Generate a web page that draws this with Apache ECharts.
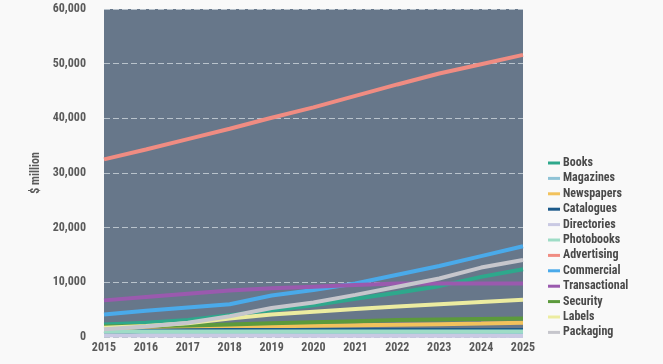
<!DOCTYPE html>
<html><head><meta charset="utf-8">
<script src="https://cdn.jsdelivr.net/npm/echarts@6/dist/echarts.min.js"></script>
<style>html,body{margin:0;padding:0;background:#f9f9f9;}#c{width:663px;height:364px;}</style>
</head><body><div id="c"></div>
<script>
const years = ['2015','2016','2017','2018','2019','2020','2021','2022','2023','2024','2025'];
const seriesNames = ['Books','Magazines','Newspapers','Catalogues','Directories','Photobooks','Advertising','Commercial','Transactional','Security','Labels','Packaging'];
const colors = ['#2ea88c','#8fc3d6','#f2c25c','#1c5a8a','#c9c9e3','#9edcc6','#f08c82','#4aaaea','#9a5aae','#5c9a3c','#ececa0','#c6c6cc'];
const books = [2300, 2600, 3100, 4000, 4900, 5800, 7000, 8100, 9300, 11000, 12400];
const magazines = [700, 700, 690, 680, 680, 670, 670, 660, 660, 650, 650];
const newspapers = [1500, 1600, 1750, 1850, 1950, 2050, 2150, 2250, 2350, 2450, 2600];
const catalogues = [600, 1150, 1250, 1300, 1300, 1300, 1300, 1300, 1300, 1300, 1300];
const directories = [300, 290, 280, 270, 260, 250, 240, 230, 220, 210, 200];
const photobooks = [1000, 1000, 1000, 1000, 1000, 1000, 1000, 1000, 1000, 1000, 1000];
const advertising = [32500, 34300, 36200, 38100, 40100, 42000, 44100, 46200, 48200, 49900, 51600];
const commercial = [4100, 4800, 5400, 6000, 7600, 8600, 9800, 11400, 13000, 14800, 16600];
const transactional = [6700, 7300, 7900, 8500, 8900, 9200, 9500, 9800, 9800, 9800, 9800];
const security = [1900, 2000, 2100, 2300, 2500, 2700, 2900, 3100, 3200, 3300, 3400];
const labels = [1700, 2000, 2500, 3400, 4100, 4600, 5100, 5600, 6000, 6400, 6800];
const packaging = [1400, 1900, 2600, 3800, 5300, 6300, 7700, 9200, 10700, 12700, 14100];
const yTicks = [0, 10000, 20000, 30000, 40000, 50000, 60000];
const allData = [books, magazines, newspapers, catalogues, directories, photobooks, advertising, commercial, transactional, security, labels, packaging];
const font = "'Liberation Sans Narrow','Roboto Condensed','Liberation Sans',sans-serif";
const chart = echarts.init(document.getElementById('c'));
chart.setOption({
  animation: false,
  backgroundColor: '#f9f9f9',
  color: colors,
  grid: {left: 104, right: 140, top: 9, bottom: 27, show: true, backgroundColor: '#67778a', borderWidth: 0},
  legend: {
    orient: 'vertical', left: 543, top: 151,
    data: seriesNames, icon: 'rect', itemWidth: 12, itemHeight: 3, itemGap: 1.4,
    textStyle: {fontFamily: font, fontSize: 12, fontWeight: 'bold', color: '#4a4a4a', lineHeight: 14, padding: [0,0,0,-2]}
  },
  xAxis: {
    type: 'category', data: years, boundaryGap: false,
    axisLine: {show: false}, axisTick: {show: false},
    axisLabel: {fontFamily: font, fontSize: 12, fontWeight: 'bold', color: '#5a5a5a', margin: 5}
  },
  yAxis: {
    type: 'value', min: yTicks[0], max: yTicks[yTicks.length-1], interval: 10000,
    name: '$ million', nameLocation: 'middle', nameGap: 60, nameRotate: 90,
    nameTextStyle: {fontFamily: font, fontSize: 12, fontWeight: 'bold', color: '#5a5a5a'},
    axisLine: {show: false}, axisTick: {show: false},
    axisLabel: {fontFamily: font, fontSize: 12, fontWeight: 'bold', color: '#5a5a5a', margin: 18,
      formatter: v => v.toLocaleString('en-US')},
    splitLine: {show: true, lineStyle: {color: '#b9c3cc', type: [6, 3], width: 1}}
  },
  series: seriesNames.map((n, i) => ({
    name: n, type: 'line', data: allData[i], showSymbol: false, symbol: 'none',
    lineStyle: {width: 4, color: colors[i]}, itemStyle: {color: colors[i]}
  }))
});
</script></body></html>
